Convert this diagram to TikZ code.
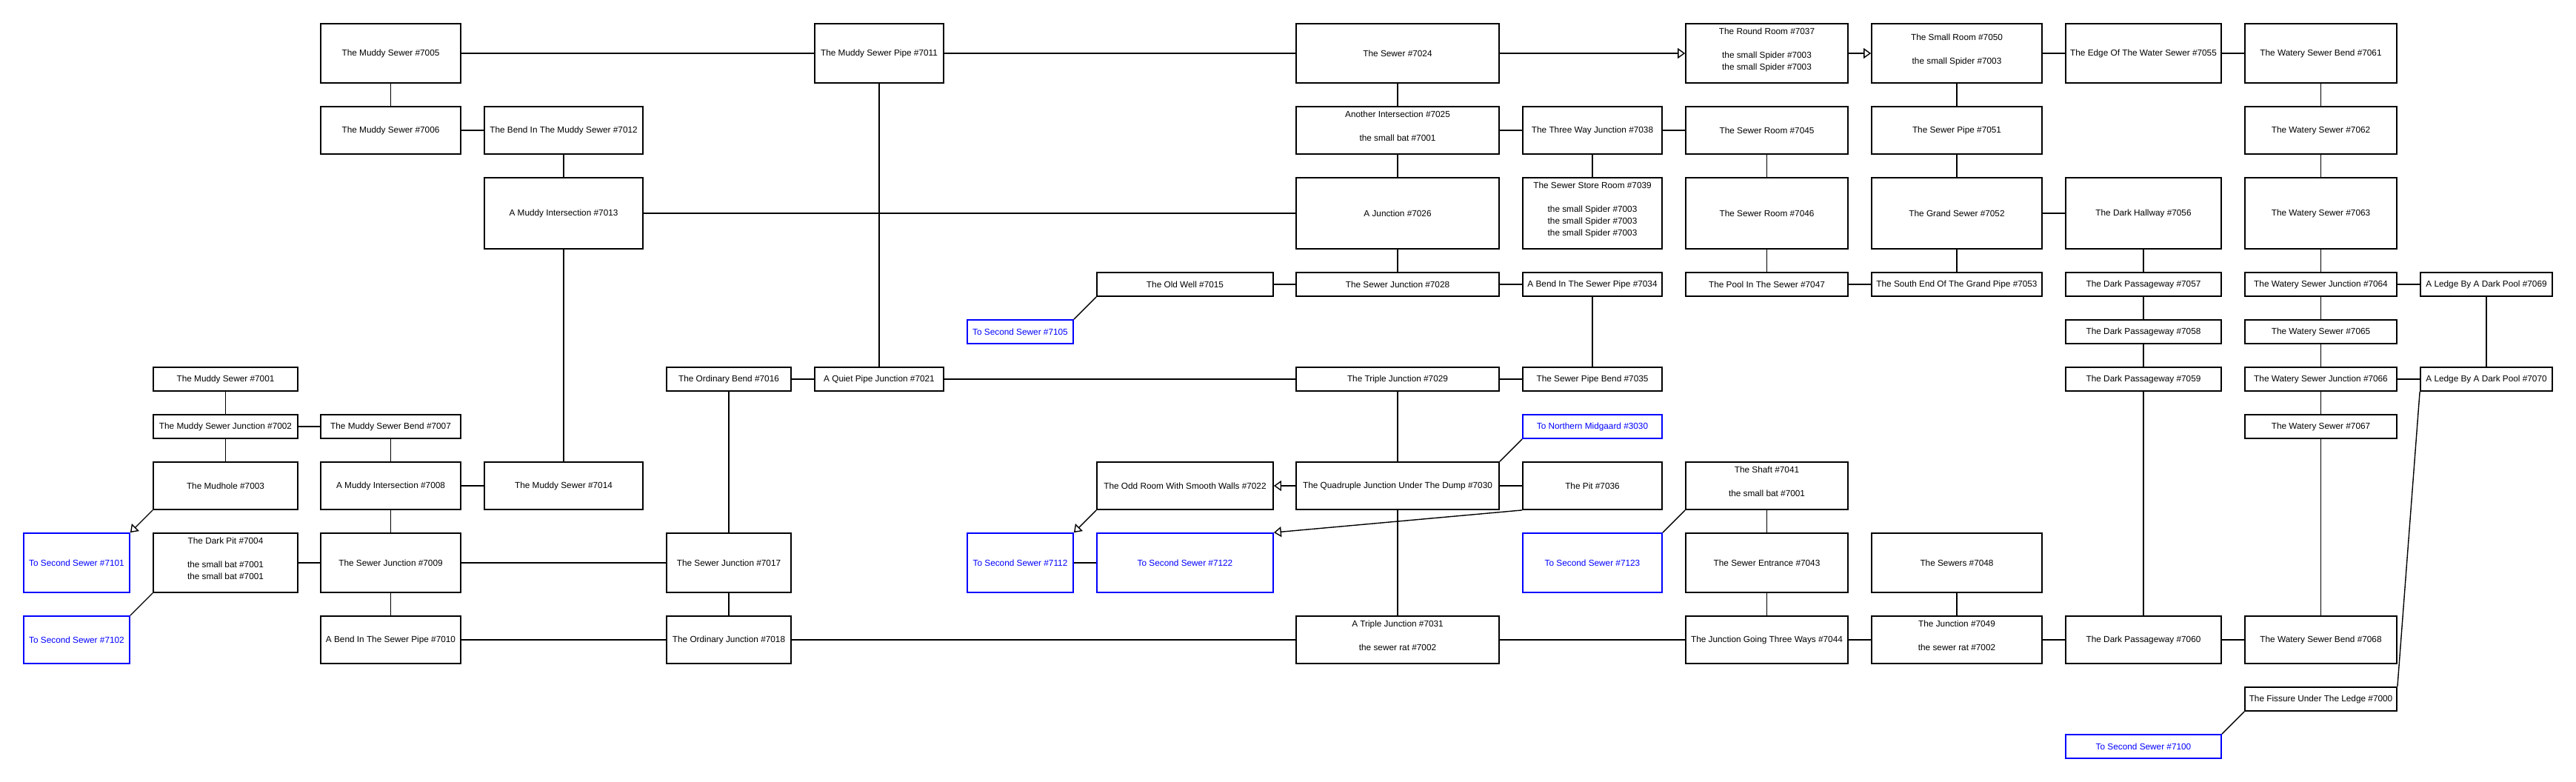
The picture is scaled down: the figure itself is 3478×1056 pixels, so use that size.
\documentclass[tikz,border=0pt]{standalone}
\usepackage{fontspec}
\setmainfont{Liberation Sans}
\usepackage{tikz}
\usetikzlibrary{arrows.meta}

\definecolor{exitblue}{RGB}{0,0,255}
\newcommand{\roomlines}[1]{\raisebox{5pt}[\height][\depth]{\begin{tabular}{@{}c@{}}#1\end{tabular}}}

\begin{document}
\begin{tikzpicture}[x=1pt,y=-1pt,
	room/.style={draw, line width=1.8pt, inner sep=0pt, font=\fontsize{11.8}{16}\selectfont},
	portal/.style={room, draw=exitblue, text=exitblue},
	link/.style={line width=1.4pt},
	oneway/.style={link, -{Triangle[open, length=10pt, width=14pt]}}]

		\useasboundingbox (0,0) rectangle (3478,1056);

		%---------------------
		% row 1
		%---------------------
		\node[room, minimum width=189, minimum height=80] (r7005) at (527.5,72) {The Muddy Sewer \#7005};
		\node[room, minimum width=174, minimum height=80] (r7011) at (1187,72) {The Muddy Sewer Pipe \#7011};
		\node[room, minimum width=274, minimum height=80] (r7024) at (1887,72) {The Sewer \#7024};
		\node[room, minimum width=219, minimum height=80] (r7037) at (2385.5,72) {\roomlines{The Round Room \#7037\\ \\the small Spider \#7003\\the small Spider \#7003}};
		\node[room, minimum width=230, minimum height=80] (r7050) at (2642,72) {\roomlines{The Small Room \#7050\\ \\the small Spider \#7003}};
		\node[room, minimum width=210, minimum height=80] (r7055) at (2894,72) {The Edge Of The Water Sewer \#7055};
		\node[room, minimum width=205, minimum height=80] (r7061) at (3133.5,72) {The Watery Sewer Bend \#7061};

		%---------------------
		% row 2
		%---------------------
		\node[room, minimum width=189, minimum height=64] (r7006) at (527.5,176) {The Muddy Sewer \#7006};
		\node[room, minimum width=214, minimum height=64] (r7012) at (761,176) {The Bend In The Muddy Sewer \#7012};
		\node[room, minimum width=274, minimum height=64] (r7025) at (1887,176) {\roomlines{Another Intersection \#7025\\ \\the small bat \#7001}};
		\node[room, minimum width=188, minimum height=64] (r7038) at (2150,176) {The Three Way Junction \#7038};
		\node[room, minimum width=219, minimum height=64] (r7045) at (2385.5,176) {The Sewer Room \#7045};
		\node[room, minimum width=230, minimum height=64] (r7051) at (2642,176) {The Sewer Pipe \#7051};
		\node[room, minimum width=205, minimum height=64] (r7062) at (3133.5,176) {The Watery Sewer \#7062};

		%---------------------
		% row 3
		%---------------------
		\node[room, minimum width=214, minimum height=96] (r7013) at (761,288) {A Muddy Intersection \#7013};
		\node[room, minimum width=274, minimum height=96] (r7026) at (1887,288) {A Junction \#7026};
		\node[room, minimum width=188, minimum height=96] (r7039) at (2150,288) {\roomlines{The Sewer Store Room \#7039\\ \\the small Spider \#7003\\the small Spider \#7003\\the small Spider \#7003}};
		\node[room, minimum width=219, minimum height=96] (r7046) at (2385.5,288) {The Sewer Room \#7046};
		\node[room, minimum width=230, minimum height=96] (r7052) at (2642,288) {The Grand Sewer \#7052};
		\node[room, minimum width=210, minimum height=96] (r7056) at (2894,288) {The Dark Hallway \#7056};
		\node[room, minimum width=205, minimum height=96] (r7063) at (3133.5,288) {The Watery Sewer \#7063};

		%---------------------
		% row 4
		%---------------------
		\node[room, minimum width=238, minimum height=32] (r7015) at (1600,384) {The Old Well \#7015};
		\node[room, minimum width=274, minimum height=32] (r7028) at (1887,384) {The Sewer Junction \#7028};
		\node[room, minimum width=188, minimum height=32] (r7034) at (2150,384) {A Bend In The Sewer Pipe \#7034};
		\node[room, minimum width=219, minimum height=32] (r7047) at (2385.5,384) {The Pool In The Sewer \#7047};
		\node[room, minimum width=230, minimum height=32] (r7053) at (2642,384) {The South End Of The Grand Pipe \#7053};
		\node[room, minimum width=210, minimum height=32] (r7057) at (2894,384) {The Dark Passageway \#7057};
		\node[room, minimum width=205, minimum height=32] (r7064) at (3133.5,384) {The Watery Sewer Junction \#7064};
		\node[room, minimum width=178, minimum height=32] (r7069) at (3357,384) {A Ledge By A Dark Pool \#7069};

		%---------------------
		% row 5
		%---------------------
		\node[portal, minimum width=143, minimum height=32] (e7105) at (1377.5,448) {To Second Sewer \#7105};
		\node[room, minimum width=210, minimum height=32] (r7058) at (2894,448) {The Dark Passageway \#7058};
		\node[room, minimum width=205, minimum height=32] (r7065) at (3133.5,448) {The Watery Sewer \#7065};

		%---------------------
		% row 6
		%---------------------
		\node[room, minimum width=195, minimum height=32] (r7001) at (304.5,512) {The Muddy Sewer \#7001};
		\node[room, minimum width=168, minimum height=32] (r7016) at (984,512) {The Ordinary Bend \#7016};
		\node[room, minimum width=174, minimum height=32] (r7021) at (1187,512) {A Quiet Pipe Junction \#7021};
		\node[room, minimum width=274, minimum height=32] (r7029) at (1887,512) {The Triple Junction \#7029};
		\node[room, minimum width=188, minimum height=32] (r7035) at (2150,512) {The Sewer Pipe Bend \#7035};
		\node[room, minimum width=210, minimum height=32] (r7059) at (2894,512) {The Dark Passageway \#7059};
		\node[room, minimum width=205, minimum height=32] (r7066) at (3133.5,512) {The Watery Sewer Junction \#7066};
		\node[room, minimum width=178, minimum height=32] (r7070) at (3357,512) {A Ledge By A Dark Pool \#7070};

		%---------------------
		% row 7
		%---------------------
		\node[room, minimum width=195, minimum height=32] (r7002) at (304.5,576) {The Muddy Sewer Junction \#7002};
		\node[room, minimum width=189, minimum height=32] (r7007) at (527.5,576) {The Muddy Sewer Bend \#7007};
		\node[portal, minimum width=188, minimum height=32] (e3030) at (2150,576) {To Northern Midgaard \#3030};
		\node[room, minimum width=205, minimum height=32] (r7067) at (3133.5,576) {The Watery Sewer \#7067};

		%---------------------
		% row 8
		%---------------------
		\node[room, minimum width=195, minimum height=64] (r7003) at (304.5,656) {The Mudhole \#7003};
		\node[room, minimum width=189, minimum height=64] (r7008) at (527.5,656) {A Muddy Intersection \#7008};
		\node[room, minimum width=214, minimum height=64] (r7014) at (761,656) {The Muddy Sewer \#7014};
		\node[room, minimum width=238, minimum height=64] (r7022) at (1600,656) {The Odd Room With Smooth Walls \#7022};
		\node[room, minimum width=274, minimum height=64] (r7030) at (1887,656) {The Quadruple Junction Under The Dump \#7030};
		\node[room, minimum width=188, minimum height=64] (r7036) at (2150,656) {The Pit \#7036};
		\node[room, minimum width=219, minimum height=64] (r7041) at (2385.5,656) {\roomlines{The Shaft \#7041\\ \\the small bat \#7001}};

		%---------------------
		% row 9
		%---------------------
		\node[portal, minimum width=143, minimum height=80] (e7101) at (103.5,760) {To Second Sewer \#7101};
		\node[room, minimum width=195, minimum height=80] (r7004) at (304.5,760) {\roomlines{The Dark Pit \#7004\\ \\the small bat \#7001\\the small bat \#7001}};
		\node[room, minimum width=189, minimum height=80] (r7009) at (527.5,760) {The Sewer Junction \#7009};
		\node[room, minimum width=168, minimum height=80] (r7017) at (984,760) {The Sewer Junction \#7017};
		\node[portal, minimum width=143, minimum height=80] (e7112) at (1377.5,760) {To Second Sewer \#7112};
		\node[portal, minimum width=238, minimum height=80] (e7122) at (1600,760) {To Second Sewer \#7122};
		\node[portal, minimum width=188, minimum height=80] (e7123) at (2150,760) {To Second Sewer \#7123};
		\node[room, minimum width=219, minimum height=80] (r7043) at (2385.5,760) {The Sewer Entrance \#7043};
		\node[room, minimum width=230, minimum height=80] (r7048) at (2642,760) {The Sewers \#7048};

		%---------------------
		% row 10
		%---------------------
		\node[portal, minimum width=143, minimum height=64] (e7102) at (103.5,864) {To Second Sewer \#7102};
		\node[room, minimum width=189, minimum height=64] (r7010) at (527.5,864) {A Bend In The Sewer Pipe \#7010};
		\node[room, minimum width=168, minimum height=64] (r7018) at (984,864) {The Ordinary Junction \#7018};
		\node[room, minimum width=274, minimum height=64] (r7031) at (1887,864) {\roomlines{A Triple Junction \#7031\\ \\the sewer rat \#7002}};
		\node[room, minimum width=219, minimum height=64] (r7044) at (2385.5,864) {The Junction Going Three Ways \#7044};
		\node[room, minimum width=230, minimum height=64] (r7049) at (2642,864) {\roomlines{The Junction \#7049\\ \\the sewer rat \#7002}};
		\node[room, minimum width=210, minimum height=64] (r7060) at (2894,864) {The Dark Passageway \#7060};
		\node[room, minimum width=205, minimum height=64] (r7068) at (3133.5,864) {The Watery Sewer Bend \#7068};

		%---------------------
		% rows 11 and 12
		%---------------------
		\node[room, minimum width=205, minimum height=32] (r7000) at (3133.5,944) {The Fissure Under The Ledge \#7000};
		\node[portal, minimum width=210, minimum height=32] (e7100) at (2894,1008) {To Second Sewer \#7100};

		%---------------------
		% muddy part
		%---------------------
		\draw[link] (r7005) -- (r7006);
		\draw[link] (r7005) -- (r7011);
		\draw[link] (r7006) -- (r7012);
		\draw[link] (r7012) -- (r7013);
		\draw[link] (r7013) -- (r7014);
		\draw[link] (r7013) -- (r7026);
		\draw[link] (r7001) -- (r7002);
		\draw[link] (r7002) -- (r7003);
		\draw[link] (r7002) -- (r7007);
		\draw[link] (r7007) -- (r7008);
		\draw[link] (r7008) -- (r7014);
		\draw[link] (r7008) -- (r7009);
		\draw[link] (r7004) -- (r7009);
		\draw[link] (r7009) -- (r7010);
		\draw[link] (r7009) -- (r7017);
		\draw[link] (r7010) -- (r7018);
		\draw[oneway] (r7003.south west) -- (e7101.north east);
		\draw[link] (r7004.south west) -- (e7102.north east);

		% middle
		\draw[link] (r7011) -- (r7021);
		\draw[link] (r7011) -- (r7024);
		\draw[link] (r7016) -- (r7021);
		\draw[link] (r7016) -- (r7017);
		\draw[link] (r7017) -- (r7018);
		\draw[link] (r7018) -- (r7031);
		\draw[link] (r7021) -- (r7029);
		\draw[link] (r7015) -- (r7028);
		\draw[link] (r7015.south west) -- (e7105.north east);
		\draw[oneway] (r7022.south west) -- (e7112.north east);
		\draw[link] (e7112) -- (e7122);

		% junctions
		\draw[link] (r7024) -- (r7025);
		\draw[link] (r7025) -- (r7026);
		\draw[link] (r7025) -- (r7038);
		\draw[link] (r7026) -- (r7028);
		\draw[link] (r7028) -- (r7034);
		\draw[link] (r7034) -- (r7035);
		\draw[link] (r7029) -- (r7035);
		\draw[link] (r7029) -- (r7030);
		\draw[link] (r7030) -- (r7031);
		\draw[link] (r7030) -- (r7036);
		\draw[oneway] (r7030) -- (r7022);
		\draw[link] (r7030.north east) -- (e3030.south west);
		\draw[oneway] (r7036.south west) -- (e7122.north east);
		\draw[oneway] (r7024) -- (r7037);
		\draw[oneway] (r7037) -- (r7050);
		\draw[link] (r7038) -- (r7039);
		\draw[link] (r7038) -- (r7045);
		\draw[link] (r7045) -- (r7046);
		\draw[link] (r7046) -- (r7047);
		\draw[link] (r7047) -- (r7053);
		\draw[link] (r7041) -- (r7043);
		\draw[link] (r7043) -- (r7044);
		\draw[link] (r7041.south west) -- (e7123.north east);
		\draw[link] (r7031) -- (r7044);
		\draw[link] (r7044) -- (r7049);
		\draw[link] (r7048) -- (r7049);

		% grand and watery sewers
		\draw[link] (r7050) -- (r7051);
		\draw[link] (r7051) -- (r7052);
		\draw[link] (r7052) -- (r7053);
		\draw[link] (r7052) -- (r7056);
		\draw[link] (r7050) -- (r7055);
		\draw[link] (r7055) -- (r7061);
		\draw[link] (r7056) -- (r7057);
		\draw[link] (r7057) -- (r7058);
		\draw[link] (r7058) -- (r7059);
		\draw[link] (r7059) -- (r7060);
		\draw[link] (r7049) -- (r7060);
		\draw[link] (r7060) -- (r7068);
		\draw[link] (r7061) -- (r7062);
		\draw[link] (r7062) -- (r7063);
		\draw[link] (r7063) -- (r7064);
		\draw[link] (r7064) -- (r7065);
		\draw[link] (r7065) -- (r7066);
		\draw[link] (r7066) -- (r7067);
		\draw[link] (r7067) -- (r7068);
		\draw[link] (r7064) -- (r7069);
		\draw[link] (r7066) -- (r7070);
		\draw[link] (r7069) -- (r7070);
		\draw[link] (r7070.south west) -- (r7000.north east);
		\draw[link] (r7000.south west) -- (e7100.north east);

		\end{tikzpicture}
\end{document}
